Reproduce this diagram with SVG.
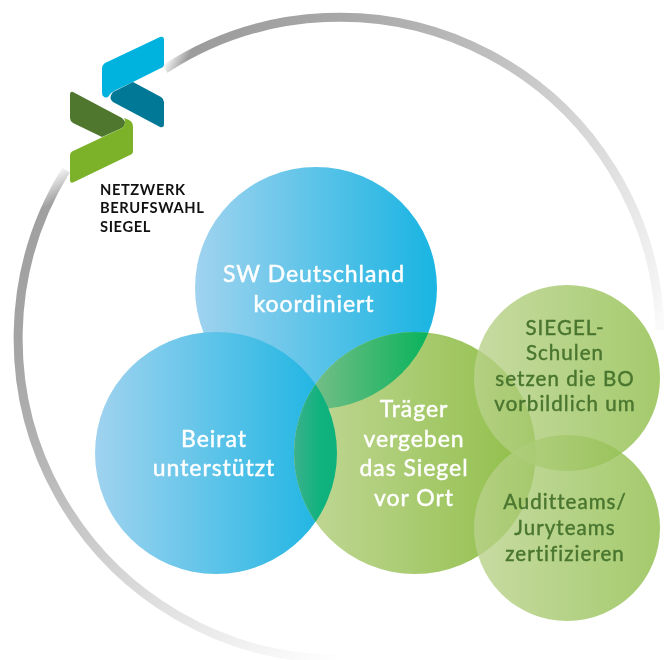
<svg xmlns="http://www.w3.org/2000/svg" width="671" height="660" viewBox="0 0 671 660">
<defs>
<linearGradient id="blueL" x1="0" x2="1" y1="0" y2="0"><stop offset="0" stop-color="#a0d3ef"/><stop offset=".92" stop-color="#22b6e3"/><stop offset="1" stop-color="#1bb6e3"/></linearGradient>
<linearGradient id="greenC" x1="0" x2="1" y1="0" y2="0"><stop offset="0" stop-color="#c3d899"/><stop offset="1" stop-color="#8fbe47"/></linearGradient>
<linearGradient id="greenS" x1="0" x2="1" y1="0" y2="0"><stop offset="0" stop-color="#bad28c"/><stop offset="1" stop-color="#8dbd47"/></linearGradient>
<linearGradient id="lensLeft" gradientUnits="userSpaceOnUse" x1="294" y1="0" x2="337" y2="0"><stop offset="0" stop-color="#3cb18c"/><stop offset=".6" stop-color="#10b27e"/><stop offset="1" stop-color="#0eb27c"/></linearGradient>
<linearGradient id="lensTop" gradientUnits="userSpaceOnUse" x1="316" y1="0" x2="430" y2="0"><stop offset="0" stop-color="#72bd86"/><stop offset="1" stop-color="#08b35c"/></linearGradient>
<linearGradient id="ringA" gradientUnits="userSpaceOnUse" x1="160" y1="70" x2="660" y2="320"><stop offset="0" stop-color="#ffffff"/><stop offset="0.035" stop-color="#9c9c9c"/><stop offset="0.25" stop-color="#a8a8a8"/><stop offset="0.5" stop-color="#bdbdbd"/><stop offset="0.77" stop-color="#dcdcdc"/><stop offset="0.98" stop-color="#f5f5f5"/><stop offset="1" stop-color="#fafafa"/></linearGradient>
<linearGradient id="ringB" gradientUnits="userSpaceOnUse" x1="62" y1="165" x2="340" y2="660"><stop offset="0" stop-color="#ffffff"/><stop offset="0.05" stop-color="#a0a0a0"/><stop offset="0.23" stop-color="#a4a4a4"/><stop offset="0.41" stop-color="#b2b2b2"/><stop offset="0.64" stop-color="#d0d0d0"/><stop offset="0.825" stop-color="#e8e8e8"/><stop offset="1" stop-color="#ffffff"/></linearGradient>
<clipPath id="cTop"><circle cx="316" cy="288" r="121"/></clipPath>
<clipPath id="cLeft"><circle cx="216" cy="453" r="121"/></clipPath>
</defs>
<style>
.big{font-family:"Lato","Liberation Sans",sans-serif;font-weight:400;font-size:23px;fill:#fff;stroke:#fff;stroke-width:.45px;text-anchor:middle;letter-spacing:.95px}
.small{font-family:"Lato","Liberation Sans",sans-serif;font-weight:400;font-size:20.5px;fill:#4a762f;stroke:#4a762f;stroke-width:.45px;text-anchor:middle;letter-spacing:1.05px}
.logo{font-family:"Lato","Liberation Sans",sans-serif;font-weight:700;font-size:14.7px;fill:#111;letter-spacing:.6px}
.blend{mix-blend-mode:darken}
</style>
<g id="ring" fill="none" stroke-width="9">
<path d="M165 69A320.500 320.500 0 0 1 660 330" stroke="url(#ringA)"/>
<path d="M66 170A320.500 320.500 0 0 0 340 659" stroke="url(#ringB)"/>
</g>
<g id="connectors"/>
<g id="node-beirat"><circle cx="216" cy="453" r="121" fill="url(#blueL)"/></g>
<g id="node-sw"><circle class="blend" cx="316" cy="288" r="121" fill="url(#blueL)"/></g>
<g id="node-traeger"><circle cx="415" cy="453" r="121" fill="url(#greenC)"/>
<circle cx="415" cy="453" r="121" fill="url(#lensTop)" clip-path="url(#cTop)"/>
<circle cx="415" cy="453" r="121" fill="url(#lensLeft)" clip-path="url(#cLeft)"/></g>
<g id="node-siegel"><circle cx="567" cy="378" r="93" fill="url(#greenS)" fill-opacity=".8"/></g>
<g id="node-audit"><circle cx="567" cy="528" r="93" fill="url(#greenS)" fill-opacity=".8"/></g>
<g id="labels">
<text class="big" x="314" y="282">SW Deutschland</text><text class="big" x="314" y="312">koordiniert</text>
<text class="big" x="214" y="447">Beirat</text><text class="big" x="214" y="476">unterstützt</text>
<text class="big" x="414" y="417">Träger</text><text class="big" x="414" y="447">vergeben</text><text class="big" x="414" y="476">das Siegel</text><text class="big" x="414" y="506">vor Ort</text>
<text class="small" x="565" y="335">SIEGEL-</text><text class="small" x="565" y="360">Schulen</text><text class="small" x="565" y="386">setzen die BO</text><text class="small" x="565" y="411">vorbildlich um</text>
<text class="small" x="565" y="509">Auditteams/</text><text class="small" x="565" y="535">Juryteams</text><text class="small" x="565" y="561">zertifizieren</text>
</g>
<g id="logo">
<path d="M105 63L160 37Q164 36 164 40V64Q164 67 161 68L133 82L116 90Q110 93 109 96Q106 99 103 96Q102 95 102 92V69Q102 65 105 63Z" fill="#00b2de"/>
<path d="M133 82L161 97Q164 99 164 102V124Q164 128 160 127L113 102Q108 98 113 92Z" fill="#007896"/>
<path d="M70 95Q70 91 73 92L122 118Q128 123 122 128L102 137L73 123Q70 121 70 118Z" fill="#4f772d"/>
<path d="M124 118L129 120Q133 122 133 127V151Q133 154 130 155L74 182Q70 184 70 180V156Q70 152 73 151L122 128Q127 123 124 118Z" fill="#7cb229"/>
<text class="logo" x="100" y="195">NETZWERK</text><text class="logo" x="100" y="213">BERUFSWAHL</text><text class="logo" x="100" y="232">SIEGEL</text>
</g>
</svg>
